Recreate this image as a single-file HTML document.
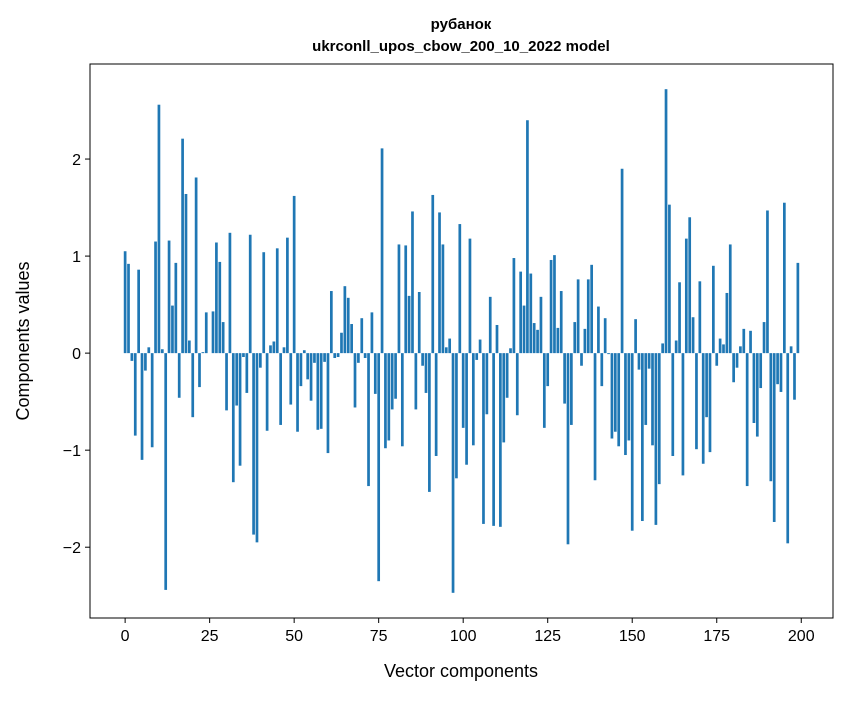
<!DOCTYPE html>
<html><head><meta charset="utf-8"><style>
body{margin:0;background:#fff;font-family:"Liberation Sans","DejaVu Sans",sans-serif;}
svg text{font-family:"Liberation Sans","DejaVu Sans",sans-serif;fill:#000;}
</style></head><body>
<svg id="chart" width="847" height="696">
<text x="461" y="29" text-anchor="middle" font-size="15" font-weight="bold">рубанок</text>
<text x="461" y="51" text-anchor="middle" font-size="15" font-weight="bold">ukrconll_upos_cbow_200_10_2022 model</text>
<g id="bars"></g>
<rect x="90" y="64" width="743" height="554" fill="none" stroke="#000" stroke-width="1"/>
<g id="xticks"></g>
<g id="yticks"></g>
<text x="461" y="677" text-anchor="middle" font-size="18">Vector components</text>
<text transform="translate(29,341) rotate(-90)" text-anchor="middle" font-size="18">Components values</text>
</svg>
<script>
const values=[1.05,0.92,-0.08,-0.85,0.86,-1.10,-0.18,0.06,-0.97,1.15,2.56,0.04,-2.44,1.16,0.49,0.93,-0.46,2.21,1.64,0.13,-0.66,1.81,-0.35,0.01,0.42,
0.0,0.43,1.14,0.94,0.32,-0.59,1.24,-1.33,-0.54,-1.16,-0.04,-0.41,1.22,-1.87,-1.95,-0.15,1.04,-0.80,0.08,0.12,1.08,-0.74,0.06,1.19,-0.53,
1.62,-0.81,-0.34,0.03,-0.27,-0.49,-0.10,-0.79,-0.78,-0.09,-1.03,0.64,-0.05,-0.04,0.21,0.69,0.57,0.30,-0.56,-0.10,0.36,-0.05,-1.37,0.42,-0.42,
-2.35,2.11,-0.98,-0.90,-0.58,-0.47,1.12,-0.96,1.11,0.59,1.46,-0.58,0.63,-0.13,-0.41,-1.43,1.63,-1.06,1.45,1.12,0.06,0.15,-2.47,-1.29,1.33,
-0.77,-1.15,1.18,-0.95,-0.07,0.14,-1.76,-0.63,0.58,-1.78,0.29,-1.79,-0.92,-0.46,0.05,0.98,-0.64,0.84,0.49,2.40,0.82,0.31,0.24,0.58,-0.77,
-0.34,0.96,1.01,0.26,0.64,-0.52,-1.97,-0.74,0.32,0.76,-0.13,0.25,0.76,0.91,-1.31,0.48,-0.34,0.36,-0.01,-0.88,-0.81,-0.96,1.90,-1.05,-0.90,
-1.83,0.35,-0.17,-1.73,-0.74,-0.16,-0.95,-1.77,-1.35,0.10,2.72,1.53,-1.06,0.13,0.73,-1.26,1.18,1.40,0.37,-0.99,0.74,-1.14,-0.66,-1.02,0.90,
-0.13,0.15,0.09,0.62,1.12,-0.30,-0.15,0.07,0.25,-1.37,0.23,-0.72,-0.86,-0.36,0.32,1.47,-1.32,-1.74,-0.32,-0.40,1.55,-1.96,0.07,-0.48,0.93];
const xTicks=[0,25,50,75,100,125,150,175,200];
const yTicks=[-2,-1,0,1,2];
const yTickLabels=["\u22122","\u22121","0","1","2"];

const L=90,R=833,T=64,B=618,bw=0.8;
const n=values.length;
const xmin=-bw/2-(n-1+bw)*0.05, xmax=n-1+bw/2+(n-1+bw)*0.05;
const vmin=Math.min(0,...values), vmax=Math.max(0,...values);
const ym=(vmax-vmin)*0.05, ymin=vmin-ym, ymax=vmax+ym;
const sx=v=>L+(v-xmin)/(xmax-xmin)*(R-L);
const sy=v=>B-(v-ymin)/(ymax-ymin)*(B-T);
const NS="http://www.w3.org/2000/svg";
const gb=document.getElementById('bars');
values.forEach((v,i)=>{
  const r=document.createElementNS(NS,'rect');
  const x0=sx(i-bw/2),x1=sx(i+bw/2);
  r.setAttribute('x',x0);r.setAttribute('width',x1-x0);
  r.setAttribute('y',Math.min(sy(v),sy(0)));r.setAttribute('height',Math.abs(sy(v)-sy(0)));
  r.setAttribute('fill','#1f77b4');
  
  
  gb.appendChild(r);
});
const gx=document.getElementById('xticks');
xTicks.forEach(t=>{
  const x=sx(t);
  const l=document.createElementNS(NS,'line');
  l.setAttribute('x1',x);l.setAttribute('x2',x);l.setAttribute('y1',B);l.setAttribute('y2',B+5);l.setAttribute('stroke','#000');
  
  
  gx.appendChild(l);
  const tx=document.createElementNS(NS,'text');
  tx.setAttribute('x',x);tx.setAttribute('y',B+23);tx.setAttribute('text-anchor','middle');tx.setAttribute('font-size','16');
  tx.textContent=t;
  
  
  gx.appendChild(tx);
});
const gy=document.getElementById('yticks');
yTicks.forEach((t,k)=>{
  const y=sy(t);
  const l=document.createElementNS(NS,'line');
  l.setAttribute('x1',L-5);l.setAttribute('x2',L);l.setAttribute('y1',y);l.setAttribute('y2',y);l.setAttribute('stroke','#000');
  
  
  gy.appendChild(l);
  const tx=document.createElementNS(NS,'text');
  tx.setAttribute('x',L-9);tx.setAttribute('y',y+6);tx.setAttribute('text-anchor','end');tx.setAttribute('font-size','16');
  tx.textContent=yTickLabels[k];
  
  
  gy.appendChild(tx);
});
</script>
</body></html>
